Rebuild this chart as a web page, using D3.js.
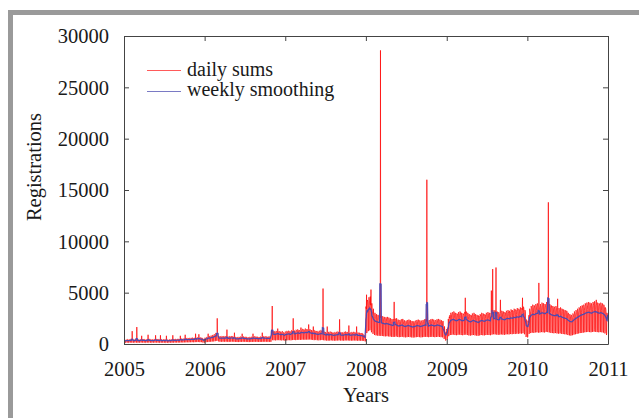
<!DOCTYPE html>
<html>
<head>
<meta charset="utf-8">
<script src="https://cdn.jsdelivr.net/npm/d3@7"></script>
<style>
  html, body { margin: 0; padding: 0; background: #fff; }
  svg { display: block; }
  text { font-family: "Liberation Serif", "Times New Roman", serif; fill: #1a1a1a; }
</style>
</head>
<body>
<svg id="chart" width="639" height="418"></svg>
<script>
// Axis tick values
const yearTicks = [2005, 2006, 2007, 2008, 2009, 2010, 2011];
const countTicks = [0, 5000, 10000, 15000, 20000, 25000, 30000];

// Typical share of the weekly mean registered on each weekday (Sun..Sat)
const weekdayShape = [0.44, 1.32, 1.30, 1.26, 1.22, 1.08, 0.38];

// Weekly mean of daily registrations; week k of a year starts on day 7k of that year
const level2005 = [300, 320, 340, 330, 350, 340, 330, 360, 340, 320, 340, 360, 350,
  340, 330, 350, 360, 340, 330, 340, 350, 360, 340, 320, 330, 340,
  330, 320, 310, 330, 340, 330, 350, 360, 370, 360, 380, 400, 390,
  410, 420, 440, 430, 450, 460, 450, 470, 490, 500, 480, 460, 360, 340];
const level2006 = [460, 500, 540, 580, 620, 660, 720, 800, 860, 580, 560, 580, 570,
  580, 560, 540, 570, 590, 560, 530, 510, 500, 520, 540, 560, 550,
  530, 510, 490, 510, 530, 540, 560, 550, 530, 520, 540, 560, 570,
  560, 550, 540, 560, 980, 950, 930, 970, 990, 950, 910, 950, 850, 830];
const level2007 = [920, 960, 980, 940, 1010, 1030, 990, 1050, 1080, 1030, 1100, 1120, 1080,
  1140, 1100, 1170, 1080, 1030, 980, 1010, 960, 940, 980, 1020, 970, 920,
  880, 860, 890, 920, 880, 840, 870, 900, 920, 890, 870, 850, 900,
  920, 890, 870, 850, 880, 900, 870, 840, 850, 830, 810, 780, 660, 620];
const level2008 = [2800, 3300, 3500, 3000, 2600, 2300, 2200, 2150, 2100, 2100, 2050, 2000, 1950,
  2000, 1950, 1900, 1850, 1800, 1850, 1900, 1800, 1750, 1800, 1850, 1750, 1700,
  1750, 1800, 1750, 1700, 1650, 1700, 1750, 1800, 1750, 1700, 1750, 1800, 1850,
  1800, 1750, 1800, 1850, 1800, 1750, 1800, 1850, 1800, 1750, 1700, 1300, 900, 800];
const level2009 = [1200, 2000, 2300, 2350, 2400, 2300, 2250, 2350, 2400, 2300, 2250, 2350, 2400,
  2300, 2200, 2150, 2250, 2300, 2200, 2150, 2100, 2200, 2300, 2250, 2200, 2300,
  2350, 2300, 2250, 2400, 2500, 2450, 2400, 2350, 2400, 2450, 2400, 2350, 2450,
  2500, 2450, 2550, 2500, 2600, 2550, 2650, 2600, 2700, 2650, 2750, 2500, 1800, 1600];
const level2010 = [1700, 2600, 2800, 2900, 2850, 2950, 3000, 2900, 2950, 3050, 3000, 2950, 3100,
  3050, 2950, 2850, 2800, 2750, 2800, 2700, 2650, 2700, 2600, 2550, 2500, 2450,
  2300, 2200, 2150, 2250, 2400, 2500, 2600, 2700, 2800, 2850, 2900, 3000, 3050,
  3100, 3050, 3000, 3100, 3150, 3100, 3050, 3000, 3050, 3000, 2900, 2700, 2300, 2200];
const weeklyLevels = { 2005: level2005, 2006: level2006, 2007: level2007,
  2008: level2008, 2009: level2009, 2010: level2010 };

// Single days well above the usual weekly pattern
const spikeDays = ["2005-02-07", "2005-02-28", "2005-03-22", "2005-04-20", "2005-05-24",
  "2005-06-15", "2005-07-12", "2005-08-10", "2005-09-13", "2005-10-05", "2005-11-21",
  "2005-12-06", "2006-01-17", "2006-02-27", "2006-04-12", "2006-05-16", "2006-06-20",
  "2006-08-08", "2006-09-19", "2006-11-03", "2006-11-28", "2007-02-06", "2007-03-13",
  "2007-04-17", "2007-05-08", "2007-06-21", "2007-07-10", "2007-09-04", "2007-10-16",
  "2007-11-20", "2008-01-04", "2008-01-24", "2008-03-07", "2008-05-08", "2008-10-03",
  "2008-10-06", "2009-03-26", "2009-07-22", "2009-07-28", "2009-08-12", "2009-09-01",
  "2009-12-10", "2010-02-22", "2010-04-06", "2010-05-18", "2010-11-09"];
const spikeValues = [1250, 1650, 800, 900, 850,
  850, 800, 850, 800, 900, 1000,
  950, 1000, 2500, 1400, 1100, 1000,
  1000, 1100, 3700, 1500, 2500, 1600,
  1900, 1700, 5400, 1700, 2400, 1800,
  1700, 4800, 5300, 28600, 4100, 16000,
  4000, 4500, 5200, 7300, 7450, 4300,
  4500, 5950, 13800, 4400, 4300];

const W = 639, H = 418;
const margin = { top: 36, right: 31, bottom: 74, left: 124 };
const iw = W - margin.left - margin.right;
const ih = H - margin.top - margin.bottom;

const svg = d3.select("#chart");

// grey frame strips along the top and left edges
svg.append("rect").attr("x", 8).attr("y", 10).attr("width", W - 8).attr("height", 5).attr("fill", "#9a9a9a");
svg.append("rect").attr("x", 8).attr("y", 10).attr("width", 5).attr("height", H - 10).attr("fill", "#9a9a9a");

// daily series
const DAY = 86400000;
const spikeMap = new Map(spikeDays.map((d, i) => [d, spikeValues[i]]));
const start = Date.UTC(2005, 0, 1), end = Date.UTC(2011, 0, 1);
const daily = [];
for (let t = start; t < end; t += DAY) {
  const date = new Date(t);
  const yr = date.getUTCFullYear();
  const doy = Math.round((t - Date.UTC(yr, 0, 1)) / DAY);
  const lvl = weeklyLevels[yr][Math.floor(doy / 7)];
  const key = date.toISOString().slice(0, 10);
  const v = spikeMap.has(key) ? spikeMap.get(key) : Math.round(lvl * weekdayShape[date.getUTCDay()]);
  daily.push({ date, value: v });
}
// centred seven-day mean
const weekly = daily.map((d, i) => {
  const w = daily.slice(Math.max(0, i - 3), Math.min(daily.length, i + 4));
  return { date: d.date, value: d3.mean(w, e => e.value) };
});

const x = d3.scaleUtc().domain([new Date(start), new Date(end)]).range([0, iw]);
const y = d3.scaleLinear().domain([0, 30000]).range([ih, 0]);

const g = svg.append("g").attr("transform", `translate(${margin.left},${margin.top})`);

g.append("clipPath").attr("id", "clip").append("rect").attr("width", iw).attr("height", ih);

const line = d3.line().x(d => x(d.date)).y(d => y(d.value));

g.append("path").datum(daily)
  .attr("clip-path", "url(#clip)")
  .attr("fill", "none").attr("stroke", "#ff0000").attr("stroke-width", 0.7)
  .attr("d", line);

g.append("path").datum(weekly)
  .attr("clip-path", "url(#clip)")
  .attr("fill", "none").attr("stroke", "#4a4ab4").attr("stroke-width", 1.2)
  .attr("d", line);

// axes: ticks pointing inwards on all four sides
const yearDates = yearTicks.map(yv => new Date(Date.UTC(yv, 0, 1)));
const axisColor = "#444";

const xb = g.append("g").attr("transform", `translate(0,${ih})`)
  .call(d3.axisBottom(x).tickValues(yearDates).tickFormat(d3.utcFormat("%Y")).tickSizeInner(-5).tickSizeOuter(0).tickPadding(17));
const xt = g.append("g")
  .call(d3.axisTop(x).tickValues(yearDates).tickFormat("").tickSizeInner(-5).tickSizeOuter(0));
const yl = g.append("g")
  .call(d3.axisLeft(y).tickValues(countTicks).tickFormat(d3.format("d")).tickSizeInner(-5).tickSizeOuter(0).tickPadding(15));
const yr = g.append("g").attr("transform", `translate(${iw},0)`)
  .call(d3.axisRight(y).tickValues(countTicks).tickFormat("").tickSizeInner(-5).tickSizeOuter(0));

[xb, xt, yl, yr].forEach(a => {
  a.selectAll(".domain").attr("stroke", axisColor);
  a.selectAll(".tick line").attr("stroke", axisColor);
  a.selectAll("text").attr("font-size", 20.5).attr("fill", "#1a1a1a")
    .style("font-family", "'Liberation Serif', serif");
});
yl.selectAll("text").attr("dy", "0.33em");

// axis titles
svg.append("text").attr("x", margin.left + iw / 2).attr("y", 402)
  .attr("text-anchor", "middle").attr("font-size", 20.5).text("Years");
svg.append("text").attr("transform", "translate(41,167) rotate(-90)")
  .attr("text-anchor", "middle").attr("font-size", 20.5).text("Registrations");

// legend
const legend = [
  { label: "daily sums", color: "#ff5a5a", y: 70.5, ty: 75.5 },
  { label: "weekly smoothing", color: "#7a7ac4", y: 91.5, ty: 95.5 }
];
legend.forEach(l => {
  svg.append("line").attr("x1", 147).attr("x2", 181).attr("y1", l.y).attr("y2", l.y)
    .attr("stroke", l.color).attr("stroke-width", 1.2);
  svg.append("text").attr("x", 187).attr("y", l.ty).attr("font-size", 20).text(l.label);
});
</script>
</body>
</html>
